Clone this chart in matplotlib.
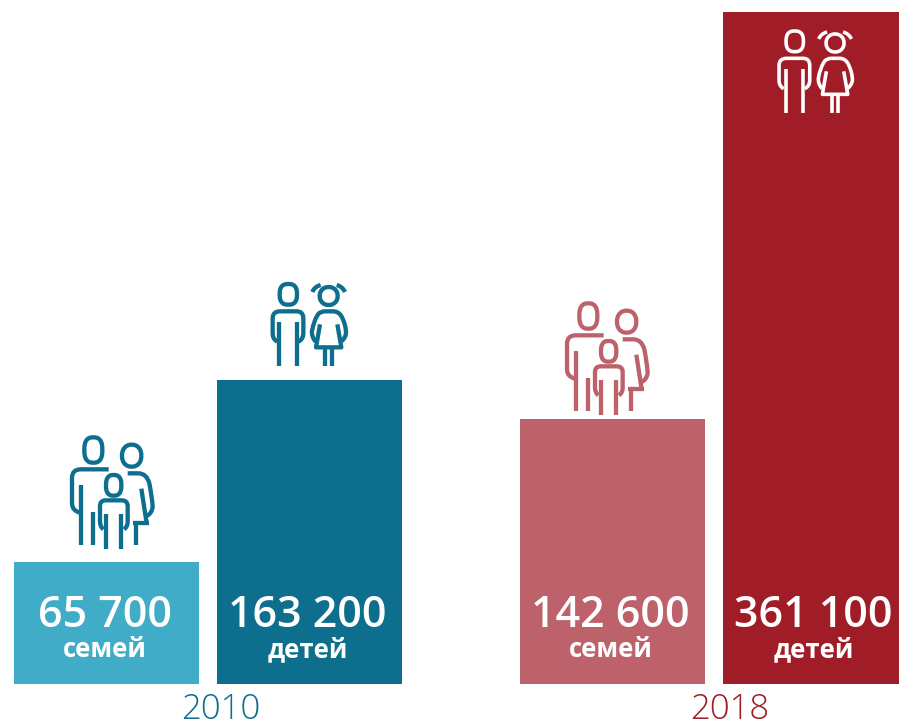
import matplotlib
matplotlib.use("Agg")
import matplotlib.pyplot as plt
import numpy as np
from matplotlib.patches import PathPatch
from matplotlib.path import Path
from matplotlib.transforms import Affine2D

plt.rcParams["font.family"] = ["Open Sans", "DejaVu Sans"]

values = [65700, 163200, 142600, 361100]
value_labels = ["65 700", "163 200", "142 600", "361 100"]
units = ["семей", "детей", "семей", "детей"]
years = ["2010", "2018"]

colors = ["#40acc8", "#0e6e8e", "#bd616a", "#a01c26"]
year_colors = ["#0e6e8e", "#a01c26"]

W, H = 899, 722
PX_VALUE = 537.5  # people per pixel
BASE = 684

fig = plt.figure(figsize=(W / 100, H / 100), dpi=100)
ax = fig.add_axes([0, 0, 1, 1])
ax.set_xlim(0, W)
ax.set_ylim((BASE - H) * PX_VALUE, BASE * PX_VALUE)
ax.axis("off")

# two groups of two bars
bar_w = 185
x = np.array([14, 217, 520, 723]) + bar_w / 2
ax.bar(x, values, width=bar_w, color=colors, linewidth=0)

for xi, lab, unit in zip(x, value_labels, units):
    ax.annotate(lab, (xi, 0), xytext=(-2, 57), textcoords="offset pixels",
                ha="center", va="baseline", color="white", fontsize=31,
                fontweight="semibold")
    ax.annotate(unit, (xi, 0), xytext=(-2, 27), textcoords="offset pixels",
                ha="center", va="baseline", color="white", fontsize=18.5,
                fontweight="bold")

for xi, year, c in zip([221, 730], years, year_colors):
    ax.annotate(year, (xi, 0), xytext=(0, -35), textcoords="offset pixels",
                ha="center", va="baseline", color=c, fontsize=25, fontweight="light")


# pictograms, traced at 3x size
def svg(s):
    verts, codes = [], []
    tok = s.split()
    i = 0
    while i < len(tok):
        c = tok[i]
        if c in "ML":
            verts.append((float(tok[i + 1]), float(tok[i + 2])))
            codes.append(Path.MOVETO if c == "M" else Path.LINETO)
            i += 3
        else:
            verts += [(float(tok[i + 1]), float(tok[i + 2])), (float(tok[i + 3]), float(tok[i + 4]))]
            codes += [Path.CURVE3, Path.CURVE3]
            i += 5
    return verts, codes


def head(cx, cy, w, h, n=2.6):
    # rounded head outline
    t = np.linspace(0, 2 * np.pi, 60)
    px = cx + w / 2 * np.sign(np.cos(t)) * np.abs(np.cos(t)) ** (2 / n)
    py = cy + h / 2 * np.sign(np.sin(t)) * np.abs(np.sin(t)) ** (2 / n)
    pts = [f"L {a:.2f} {b:.2f}" for a, b in zip(px, py)]
    pts[0] = "M" + pts[0][1:]
    return " ".join(pts)


family = [
    head(130, 540, 54, 76),
    "M 176 598 L 92 598 Q 66 598 66 624 L 66 700 Q 66 722 90 728",
    "M 94 645 L 94 826",
    "M 129 727 L 129 826",
    head(245, 557, 58, 66, 2.2),
    "M 233 610 L 265 610 Q 290 610 298 640 Q 306 680 308 710 Q 306 730 290 738",
    "M 274 656 L 290 760",
    "M 248 758 L 296 758",
    "M 259 758 L 259 826",
    head(191, 646, 46, 62),
    "M 160 778 Q 150 770 150 755 L 150 708 Q 150 691 167 691 L 215 691 Q 233 691 233 708 L 233 755 Q 233 770 222 778",
    "M 168 732 L 168 836",
    "M 214 732 L 214 836",
]
kids = [
    head(715, 73, 52, 62),
    "M 682 215 Q 668 208 668 190 L 668 145 Q 668 124 690 124 L 740 124 Q 760 124 760 145 L 760 190 Q 760 208 745 215",
    "M 688 157 L 688 288",
    "M 740 157 L 740 288",
    head(836, 78, 54, 54, 2.1),
    "M 787 66 Q 793 50 812 45",
    "M 860 45 Q 878 50 885 66",
    "M 797 215 Q 784 200 786 183 Q 792 150 805 132 Q 812 124 825 124 L 850 124 Q 866 124 875 140 Q 888 165 888 190 Q 886 205 873 215",
    "M 810 163 L 798 232 L 874 232 L 862 163",
    "M 826 232 L 826 288",
    "M 846 232 L 846 288",
]


def icon(parts, dx, dy, color, lw):
    tr = Affine2D().scale(1 / 3, -1 / 3).translate(50 + dx, H - 270 - dy)
    for s in parts:
        v, c = svg(s)
        fig.add_artist(PathPatch(Path(v, c), fill=False, edgecolor=color, linewidth=lw * 0.72,
                                 capstyle="butt", joinstyle="round", transform=tr))


icon(family, 0, 0, colors[1], 4.3)
icon(kids, 0, 0, colors[1], 4.3)
icon(family, 495, -134, colors[2], 4.3)
icon(kids, 506.4, -253, "white", 3.6)

fig.savefig("out.png", dpi=100, facecolor="white")
